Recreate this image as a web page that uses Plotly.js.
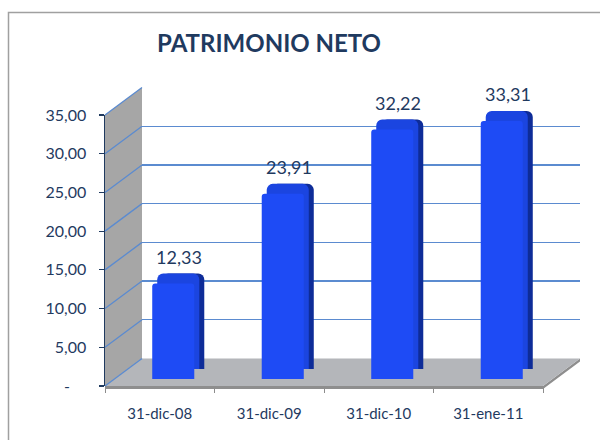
<!DOCTYPE html>
<html>
<head>
<meta charset="utf-8">
<script src="https://cdn.plot.ly/plotly-3.0.1.min.js"></script>
<style>html,body{margin:0;padding:0;background:#fff;}#chart{width:600px;height:440px;}</style>
</head>
<body>
<div id="chart"></div>
<script>
const categories = ['31-dic-08', '31-dic-09', '31-dic-10', '31-ene-11'];
const values = [12.33, 23.91, 32.22, 33.31];
const tickVals = [0, 5, 10, 15, 20, 25, 30, 35];
const tickText = ['-\u00a0\u00a0\u00a0\u00a0', '5,00', '10,00', '15,00', '20,00', '25,00', '30,00', '35,00'];
const chartTitle = 'PATRIMONIO NETO';

const W = 600, H = 440;
const px = x => x / W;
const py = y => 1 - y / H;
const NAVY = '#1F3A5F';
const GRID = '#5B8BD0';

// geometry (pixels)
const frontL = 105, frontR = 543, frontY0 = 386, frontY35 = 115;
const depthX = 37, depthY = 27.5;
const yMax = 35;
const ppu = (frontY0 - frontY35) / yMax;

// bar system offsets (pixels)
const barDX = 13.5, barDY = 7;
const sideDX = 10, sideDY = 10;
const midDX = 5;

function xDom(dx) { return [px(frontL + dx), px(frontR + dx)]; }
function yDom(dy) { return [py(frontY0 - dy), py(frontY35 - dy)]; }

const hiddenAx = {visible: false, fixedrange: true};

const barWidth = 0.384;
const traces = [
  {type: 'scatter', x: categories, y: values, xaxis: 'x', yaxis: 'y', mode: 'markers',
   marker: {opacity: 0}, hoverinfo: 'skip', showlegend: false},
  {type: 'scatter', x: categories, y: values, xaxis: 'x2', yaxis: 'y2', mode: 'markers',
   marker: {opacity: 0}, hoverinfo: 'skip', showlegend: false},
  {type: 'bar', x: categories, y: values, xaxis: 'x3', yaxis: 'y3', width: barWidth,
   marker: {color: '#0E2C98', cornerradius: 6, line: {width: 0}}, hoverinfo: 'skip', showlegend: false},
  {type: 'bar', x: categories, y: values, xaxis: 'x4', yaxis: 'y4', width: barWidth,
   marker: {color: '#1B45E0', cornerradius: 6, line: {width: 0}}, hoverinfo: 'skip', showlegend: false},
  {type: 'bar', x: categories, y: values, xaxis: 'x5', yaxis: 'y5', width: barWidth,
   marker: {color: '#1E4BF5', cornerradius: 3, line: {width: 0}}, hoverinfo: 'skip', showlegend: false}
];

// decorative shapes: side wall, floor, wall gridlines, frame
const shapes = [];
const P = (x, y) => px(x) + ',' + py(y);
// side wall
shapes.push({type: 'path', xref: 'paper', yref: 'paper', layer: 'below',
  path: 'M' + P(frontL, frontY0) + 'L' + P(frontL + depthX, frontY0 - depthY) + 'L' + P(frontL + depthX, frontY35 - depthY) + 'L' + P(frontL, frontY35) + 'Z',
  fillcolor: '#A6A6A6', line: {width: 0}});
// floor slab edge
shapes.push({type: 'path', xref: 'paper', yref: 'paper', layer: 'below',
  path: 'M' + P(frontL, frontY0) + 'L' + P(frontR, frontY0) + 'L' + P(frontR + depthX, frontY0 - depthY) + 'L' + P(frontR + depthX, frontY0 - depthY + 3) + 'L' + P(frontR, frontY0 + 3) + 'L' + P(frontL, frontY0 + 3) + 'Z',
  fillcolor: '#8E8E8E', line: {width: 0}});
// floor top
shapes.push({type: 'path', xref: 'paper', yref: 'paper', layer: 'below',
  path: 'M' + P(frontL, frontY0) + 'L' + P(frontR, frontY0) + 'L' + P(frontR + depthX, frontY0 - depthY) + 'L' + P(frontL + depthX, frontY0 - depthY) + 'Z',
  fillcolor: '#B4B6BA', line: {width: 0}});
// wall gridlines (diagonals)
tickVals.forEach(v => {
  const yf = frontY0 - v * ppu;
  shapes.push({type: 'line', xref: 'paper', yref: 'paper', layer: 'below',
    x0: px(frontL), y0: py(yf), x1: px(frontL + depthX), y1: py(yf - depthY),
    line: {color: GRID, width: 1.3}});
});
// outer frame
shapes.push({type: 'rect', xref: 'paper', yref: 'paper', layer: 'above',
  x0: px(8.5), y0: -0.05, x1: 1.05, y1: py(12.5),
  line: {color: '#A0A0A0', width: 1.5}, fillcolor: 'rgba(0,0,0,0)'});

// data labels
const annotations = categories.map((c, i) => ({
  xref: 'x5', yref: 'y5', x: c, y: values[i],
  text: values[i].toFixed(2).replace('.', ','),
  showarrow: false, xanchor: 'center', yanchor: 'middle', yshift: 27, xshift: 6,
  font: {family: 'Lato, sans-serif', size: 18, color: NAVY}
}));

const layout = {
  width: W, height: H,
  margin: {l: 0, r: 0, t: 0, b: 0, pad: 0},
  paper_bgcolor: '#FFFFFF', plot_bgcolor: 'rgba(0,0,0,0)',
  separators: ',.',
  showlegend: false,
  title: {text: chartTitle, x: px(269), xanchor: 'center', y: py(44), yanchor: 'middle',
          font: {family: 'Lato, sans-serif', size: 24, color: NAVY, weight: 'bold'}},
  xaxis: {domain: xDom(0), anchor: 'y', type: 'category', range: [-0.5, 3.5],
          showgrid: false, zeroline: false, showline: false,
          ticks: 'outside', tickson: 'boundaries', ticklen: 6, tickcolor: '#8C8C8C', tickwidth: 1,
          ticklabelstandoff: 17,
          tickfont: {family: 'Lato, sans-serif', size: 15, color: NAVY}, fixedrange: true},
  yaxis: {domain: yDom(0), anchor: 'x', range: [0, yMax],
          tickvals: tickVals, ticktext: tickText,
          showgrid: false, zeroline: false, showline: true, linecolor: NAVY, linewidth: 1.5,
          ticks: 'outside', ticklen: 5, tickcolor: NAVY, tickwidth: 1.2,
          ticklabelstandoff: 9,
          tickfont: {family: 'Lato, sans-serif', size: 16, color: NAVY}, fixedrange: true},
  xaxis2: Object.assign({domain: [px(frontL + depthX), px(frontR + depthX)], anchor: 'y2', type: 'category', range: [-0.5, 3.5]}, hiddenAx),
  yaxis2: {domain: [py(frontY0 - depthY), py(frontY35 - depthY)], anchor: 'x2', range: [0, yMax],
           tickvals: tickVals, showticklabels: false, ticks: '', showline: false, zeroline: false,
           showgrid: true, gridcolor: GRID, gridwidth: 1.3, fixedrange: true},
  xaxis3: Object.assign({domain: xDom(barDX + sideDX), anchor: 'y3', type: 'category', range: [-0.5, 3.5]}, hiddenAx),
  yaxis3: Object.assign({domain: yDom(barDY + sideDY), anchor: 'x3', range: [0, yMax]}, hiddenAx),
  xaxis4: Object.assign({domain: xDom(barDX + midDX), anchor: 'y4', type: 'category', range: [-0.5, 3.5]}, hiddenAx),
  yaxis4: Object.assign({domain: yDom(barDY + sideDY), anchor: 'x4', range: [0, yMax]}, hiddenAx),
  xaxis5: Object.assign({domain: xDom(barDX), anchor: 'y5', type: 'category', range: [-0.5, 3.5]}, hiddenAx),
  yaxis5: Object.assign({domain: yDom(barDY), anchor: 'x5', range: [0, yMax]}, hiddenAx),
  shapes: shapes,
  annotations: annotations
};

Plotly.newPlot('chart', traces, layout, {staticPlot: true, displayModeBar: false});
</script>
</body>
</html>
